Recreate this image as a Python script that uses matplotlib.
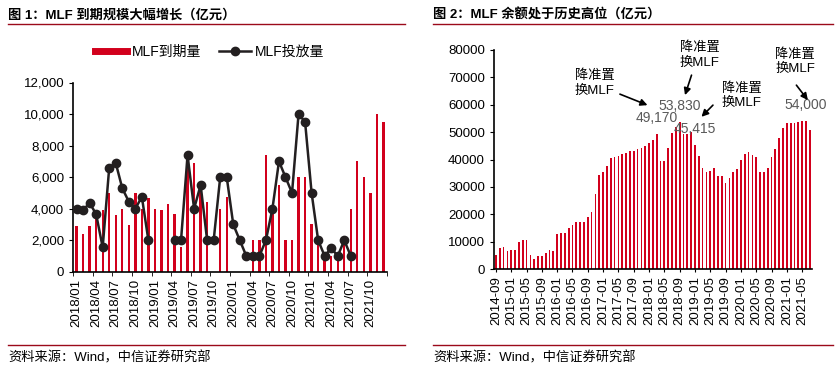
import numpy as np
import matplotlib
matplotlib.use('Agg')
import matplotlib.pyplot as plt
from matplotlib.lines import Line2D
from matplotlib.ticker import FuncFormatter

plt.rcParams['font.family'] = ['Liberation Sans', 'Noto Sans CJK SC', 'DejaVu Sans']

# Figure 1: monthly MLF maturity vs issuance, 2018/01 - 2021/12 (100 million yuan)
mat_vals = [2900, 2400, 2900, 3900, 3900, 5000, 3600, 4000, 2950, 5000, 4000, 4700,
            3950, 3900, 4300, 3650, 1550, 6600, 6900, 5300, 4400, 0, 4000, 4750,
            0, 0, 0, 2000, 2000, 7400, 4000, 5500, 2000, 2000, 6000, 6000,
            3000, 2000, 1000, 1000, 1000, 2000, 4000, 7000, 6000, 5000, 10000, 9500]
iss_vals = [4000, 3900, 4370, 3650, 1550, 6600, 6900, 5300, 4450, 4000, 4750, 2000,
            np.nan, np.nan, np.nan, 2000, 2000, 7400, 4000, 5500, 2000, 2000, 6000, 6000,
            3000, 2000, 1000, 1000, 1000, 2000, 4000, 7000, 6000, 5000, 10000, 9500,
            5000, 2000, 1000, 1500, 1000, 2000, 1000, np.nan, np.nan, np.nan, np.nan, np.nan]
left_labels = ['2018/01', '2018/04', '2018/07', '2018/10', '2019/01', '2019/04', '2019/07', '2019/10',
               '2020/01', '2020/04', '2020/07', '2020/10', '2021/01', '2021/04', '2021/07', '2021/10']

# Figure 2: MLF outstanding balance, 2014-09 - 2021-07
bal_vals = [5000, 7600, 7900, 6500, 6900, 6900, 10000, 10500, 10500, 5100, 3700, 4600,
            4900, 5700, 6800, 6600, 12700, 13000, 13000, 14800, 16100, 17300, 17000, 17300,
            18900, 21000, 27300, 34300, 35500, 37600, 40400, 41000, 41300, 42000, 42200, 43100,
            43200, 43700, 44100, 44900, 46100, 47300, 49170, 39400, 39400, 44100, 49500, 52000,
            53830, 49200, 49200, 50100, 45415, 41400, 36800, 35500, 35800, 36800, 34000, 34000,
            31500, 33100, 35300, 36500, 39800, 41900, 42600, 41600, 40800, 35500, 35500, 36800,
            40800, 43800, 47700, 51400, 53200, 53200, 53200, 53800, 54000, 54000, 50700]
right_labels = ['2014-09', '2015-01', '2015-05', '2015-09', '2016-01', '2016-05', '2016-09',
                '2017-01', '2017-05', '2017-09', '2018-01', '2018-05', '2018-09', '2019-01',
                '2019-05', '2019-09', '2020-01', '2020-05', '2020-09', '2021-01', '2021-05']
peak_idx = [42, 48, 52, 81]
peak_vals = [49170, 53830, 45415, 54000]

RED = '#D2001C'
DARKRED = '#9B0A1A'
BLACK = '#231F20'

fig = plt.figure(figsize=(8.39, 3.67), dpi=100)
W, H = 839, 367

def fx(px):
    return px / W

def fy(py):
    return 1 - py / H

# headers / footers
for x0, x1, title in [(8, 405, '图 1：MLF 到期规模大幅增长（亿元）'),
                      (433, 833, '图 2：MLF 余额处于历史高位（亿元）')]:
    fig.text(fx(x0), fy(15), title, fontsize=9.5, fontweight='bold', va='center', ha='left')
    fig.add_artist(Line2D([fx(x0), fx(x1)], [fy(23.5)] * 2, color=DARKRED, lw=1))
    fig.add_artist(Line2D([fx(x0), fx(x1)], [fy(345)] * 2, color=DARKRED, lw=1))
    fig.text(fx(x0), fy(358), '资料来源：Wind，中信证券研究部', fontsize=9.5, va='center', ha='left')

# ---- left chart
ax1 = fig.add_axes([fx(73.3), fy(271.8), fx(386.7 - 73.3), (271.8 - 82.5) / H])
x1 = np.arange(len(mat_vals))
ax1.bar(x1, mat_vals, width=0.36, color=RED, zorder=2)
ax1.plot(x1, iss_vals, color=BLACK, lw=1.8, marker='o', markersize=6, zorder=3)
ax1.set_xlim(-0.5, len(mat_vals) - 0.5)
ax1.set_ylim(0, 12000)
ax1.set_yticks(range(0, 12001, 2000))
ax1.yaxis.set_major_formatter(FuncFormatter(lambda v, p: f'{int(v):,}'))
ax1.set_xticks(x1[::3])
ax1.set_xticklabels(left_labels, rotation=90)
ax1.set_xticks(np.arange(-0.5, len(mat_vals), 3), minor=True)
ax1.tick_params(axis='x', which='major', length=0, pad=5, labelsize=9.5)
ax1.tick_params(axis='x', which='minor', length=3, direction='out')
ax1.tick_params(axis='y', length=3, labelsize=9.5)
for s in ['top', 'right']:
    ax1.spines[s].set_visible(False)
ax1.spines['left'].set_linewidth(1.2)
ax1.spines['bottom'].set_linewidth(1.2)

handles = [Line2D([0], [0], color=RED, lw=5),
           Line2D([0], [0], color=BLACK, lw=1.8, marker='o', markersize=6)]
fig.legend(handles, ['MLF到期量', 'MLF投放量'], loc='center', bbox_to_anchor=(fx(210), fy(52)),
           ncol=2, frameon=False, fontsize=10, handlelength=2.3, columnspacing=1.3,
           handletextpad=0.3)

# ---- right chart
ax2 = fig.add_axes([fx(494), fy(269), fx(811.7 - 494), (269 - 50) / H])
x2 = np.arange(len(bal_vals))
ax2.bar(x2, bal_vals, width=0.45, color=RED, zorder=2)
ax2.set_xlim(-0.5, len(bal_vals) - 0.5)
ax2.set_ylim(0, 80000)
ax2.set_yticks(range(0, 80001, 10000))
ax2.set_xticks(x2[::4])
ax2.set_xticklabels(right_labels, rotation=90)
ax2.tick_params(axis='x', length=2, pad=3, labelsize=9.5)
ax2.tick_params(axis='y', length=3, labelsize=9.5)
for s in ['top', 'right']:
    ax2.spines[s].set_visible(False)
ax2.spines['left'].set_linewidth(1.2)
ax2.spines['bottom'].set_linewidth(1.2)

for k, v in zip(peak_idx, peak_vals):
    ax2.annotate(f'{v:,}', xy=(k, v), xytext=(0, 11.5), textcoords='offset points',
                 ha='center', va='center', fontsize=10, color='#595959')

ann_text = '降准置\n换MLF'
arrow = dict(arrowstyle='-|>', color='black', lw=1.2, mutation_scale=10, shrinkA=0, shrinkB=0)
ax2.text(20.65, 67890, ann_text, fontsize=9.5, ha='left', va='center', linespacing=1.25)
ax2.annotate('', xy=(39.6, 59860), xytext=(32.4, 63875), arrowprops=arrow)
ax2.text(53.3, 78110, ann_text, fontsize=9.5, ha='center', va='center', linespacing=1.25)
ax2.annotate('', xy=(49.4, 63510), xytext=(51.1, 70810), arrowprops=arrow)
ax2.text(64.2, 63330, ann_text, fontsize=9.5, ha='center', va='center', linespacing=1.25)
ax2.annotate('', xy=(53.7, 55590), xytext=(56.7, 59860), arrowprops=arrow)
ax2.text(78.2, 75740, ann_text, fontsize=9.5, ha='center', va='center', linespacing=1.25)
ax2.annotate('', xy=(81.5, 61685), xytext=(78.5, 67160), arrowprops=arrow)

fig.savefig('out.png', dpi=100)
